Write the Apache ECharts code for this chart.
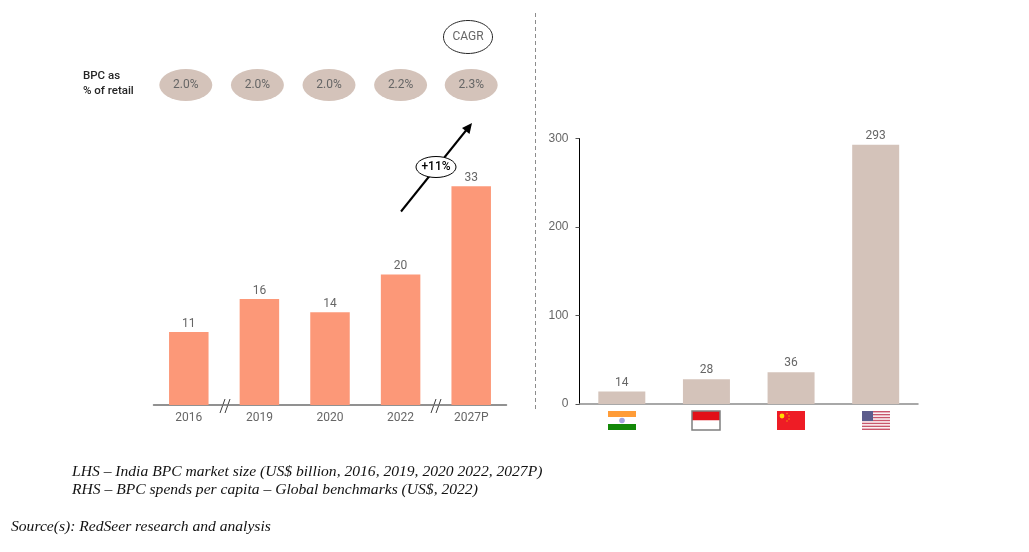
<!DOCTYPE html>
<html><head><meta charset="utf-8">
<style>html,body{margin:0;padding:0;background:#fff}#c{width:1029px;height:552px}</style>
<script src="https://cdn.jsdelivr.net/npm/echarts@6/dist/echarts.min.js"></script>
</head><body><div id="c"></div>
<script>
const years = ['2016','2019','2020','2022','2027P'];
const marketSize = [11, 16, 14, 19.7, 33];
const retailShare = ['2.0%','2.0%','2.0%','2.2%','2.3%'];
const countries = ['India','Indonesia','China','USA'];
const spendPerCapita = [14, 28, 36, 293];
const spendTicks = [0, 100, 200, 300];
const cagrLabel = '+11%';
const captionLines = [
  'LHS – India BPC market size (US$ billion, 2016, 2019, 2020 2022, 2027P)',
  'RHS – BPC spends per capita – Global benchmarks (US$, 2022)'
];
const sourceLine = 'Source(s): RedSeer research and analysis';

const SANS = 'Roboto, "Liberation Sans", sans-serif';
const ARIAL = '"Liberation Sans", Arial, sans-serif';
const SERIF = '"Liberation Serif", serif';
const GREY = '#666666';
const ovalNudge = [-3, -2, -1, 0, 0];

function drawFlag(name, x, y) {
  const r = (a, b, w, h, fill) => ({type:'rect', shape:{x:x+a, y:y+b, width:w, height:h}, style:{fill}});
  const W = 28, H = 19;
  if (name === 'India') return [
    r(0,0,W,6,'#ff9c38'), r(0,6,W,7,'#ffffff'), r(0,13,W,6,'#138808'),
    {type:'circle', shape:{cx:x+W/2, cy:y+H/2, r:2.8}, style:{fill:'#a4a4dc'}}
  ];
  if (name === 'Indonesia') return [
    r(0,0,W,9.5,'#e20f18'), r(0,9.5,W,9.5,'#ffffff'),
    {type:'rect', shape:{x:x, y:y, width:W, height:H}, style:{fill:'none', stroke:'#7f7f7f', lineWidth:1.5}}
  ];
  if (name === 'China') return [
    r(0,0,W,19,'#ee1c25'),
    {type:'circle', shape:{cx:x+5, cy:y+5, r:2.4}, style:{fill:'#ffde00'}},
    {type:'circle', shape:{cx:x+10, cy:y+2.5, r:.7}, style:{fill:'#f7a600'}},
    {type:'circle', shape:{cx:x+12, cy:y+5, r:.7}, style:{fill:'#f7a600'}},
    {type:'circle', shape:{cx:x+12, cy:y+8, r:.7}, style:{fill:'#f7a600'}},
    {type:'circle', shape:{cx:x+10, cy:y+10, r:.7}, style:{fill:'#f7a600'}}
  ];
  const out = [r(0,0,W,H,'#ffffff')];
  for (let i = 0; i < 7; i++) out.push(r(0, i*H/6.5, W, H/13, '#c9566c'));
  out.push(r(0,0,11,10,'#5c5c8c'));
  return out;
}

const chart = echarts.init(document.getElementById('c'), null, {renderer:'canvas'});
chart.setOption({
  animation:false,
  backgroundColor:'#ffffff',
  textStyle:{fontFamily:SANS},
  grid:[
    {left:153.5, width:353, top:100, bottom:147},
    {left:579.5, width:338.5, top:138.5, bottom:148},
    {left:153.5, width:353, top:69, height:32}
  ],
  xAxis:[
    {gridIndex:0, type:'category', data:years, axisTick:{show:false},
     axisLine:{lineStyle:{color:'#6e6e6e', width:1.5}},
     axisLabel:{color:GREY, fontSize:12, margin:7, fontFamily:SANS}},
    {gridIndex:1, type:'category', data:countries, axisTick:{show:false},
     axisLine:{lineStyle:{color:'#8c8c8c', width:1.5}}, axisLabel:{show:false}},
    {gridIndex:2, type:'category', data:years, show:false}
  ],
  yAxis:[
    {gridIndex:0, type:'value', min:0, max:46, show:false},
    {gridIndex:1, type:'value', min:0, max:300, interval:100, splitLine:{show:false},
     axisLine:{show:true, lineStyle:{color:'#000', width:1}},
     axisTick:{show:true, length:4, lineStyle:{color:'#555', width:1}},
     axisLabel:{color:GREY, fontSize:12, margin:11, fontFamily:ARIAL,
       formatter:v=>spendTicks.includes(v)?String(v):''}},
    {gridIndex:2, type:'value', min:0, max:2, show:false}
  ],
  series:[
    {type:'bar', xAxisIndex:0, yAxisIndex:0, data:marketSize, barWidth:39.5,
     itemStyle:{color:'#fc9878'},
     label:{show:true, position:'top', distance:2, color:GREY, fontSize:12, fontFamily:SANS, formatter:p=>Math.round(p.value)}},
    {type:'bar', xAxisIndex:1, yAxisIndex:1, data:spendPerCapita, barWidth:47,
     itemStyle:{color:'#d4c3ba'},
     label:{show:true, position:'top', distance:3, color:GREY, fontSize:12, fontFamily:SANS}},
    {type:'scatter', xAxisIndex:2, yAxisIndex:2, symbol:'circle', symbolSize:[53,32],
     data:retailShare.map((s,i)=>({value:[years[i],1], label:{formatter:s}, symbolOffset:[ovalNudge[i],0]})),
     itemStyle:{color:'#d4c3ba', opacity:1},
     label:{show:true, position:'inside', color:GREY, fontSize:12, fontFamily:SANS}},
    {type:'custom', xAxisIndex:1, yAxisIndex:1, clip:false, silent:true,
     data:countries.map((c,i)=>[i,0]),
     renderItem:(params,api)=>{
       const p = api.coord([api.value(0),0]);
       return {type:'group', children:drawFlag(countries[params.dataIndex], Math.round(p[0]-14), 411)};
     }}
  ],
  graphic:[
    {type:'line', shape:{x1:535.5,y1:13,x2:535.5,y2:410}, style:{stroke:'#8c8c8c', lineWidth:1, lineDash:[4,3]}},
    {type:'text', left:83, top:69, style:{text:'BPC as\n% of retail', fill:'#262626', font:'500 11.5px '+SANS, lineHeight:14.5}},
    {type:'ellipse', shape:{cx:468,cy:37,rx:24.5,ry:16.5}, style:{fill:'#fff', stroke:'#262626', lineWidth:1}},
    {type:'text', style:{x:468,y:37,text:'CAGR',fill:GREY,font:'12px '+SANS,align:'center',verticalAlign:'middle'}},
    {type:'line', shape:{x1:401,y1:211.5,x2:468,y2:128}, style:{stroke:'#000', lineWidth:2}},
    {type:'polygon', shape:{points:[[472,123],[469.5,134],[462,128]]}, style:{fill:'#000'}},
    {type:'ellipse', shape:{cx:436,cy:167,rx:20,ry:10.5}, style:{fill:'#fff', stroke:'#000', lineWidth:1}},
    {type:'text', style:{x:436,y:167,text:cagrLabel,fill:'#000',font:'500 12px '+SANS,align:'center',verticalAlign:'middle'}},
    {type:'line', shape:{x1:220,y1:413,x2:225,y2:399}, style:{stroke:'#404040', lineWidth:1}},
    {type:'line', shape:{x1:225,y1:413,x2:230,y2:399}, style:{stroke:'#404040', lineWidth:1}},
    {type:'line', shape:{x1:431,y1:413,x2:436,y2:399}, style:{stroke:'#404040', lineWidth:1}},
    {type:'line', shape:{x1:436,y1:413,x2:441,y2:399}, style:{stroke:'#404040', lineWidth:1}},
    {type:'text', style:{x:72,y:472,text:captionLines[0],fill:'#111',font:'italic 15.6px '+SERIF,verticalAlign:'middle'}},
    {type:'text', style:{x:72,y:490,text:captionLines[1],fill:'#111',font:'italic 15.6px '+SERIF,verticalAlign:'middle'}},
    {type:'text', style:{x:11,y:527,text:sourceLine,fill:'#111',font:'italic 15.6px '+SERIF,verticalAlign:'middle'}}
  ]
});
</script></body></html>
